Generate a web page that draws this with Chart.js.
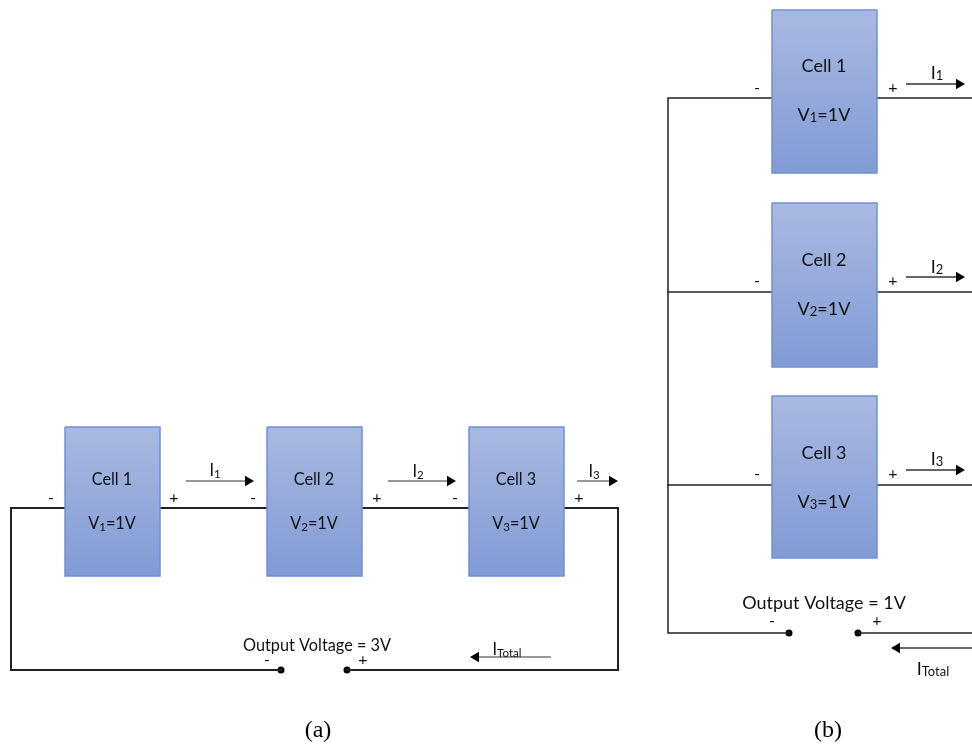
<!DOCTYPE html>
<html>
<head>
<meta charset="utf-8">
<style>
body { margin: 0; background: #fff; }
canvas { display: block; }
</style>
<script src="https://cdn.jsdelivr.net/npm/chart.js@4"></script>
</head>
<body>
<canvas id="chart" width="972" height="749"></canvas>
<script>
// cells: left, right, top, bottom
const cellLeft = [65, 267, 469, 772, 772, 772]
const cellRight = [160, 362, 564, 877, 877, 877]
const cellTop = [427, 427, 427, 10, 203, 396]
const cellBottom = [576, 576, 576, 173, 367, 558]

// wires, as runs of x,y corners (a first, then b)
const wiresA = [
    [[65, 508], [11, 508], [11, 670], [281, 670]],
    [[160, 508], [267, 508]],
    [[362, 508], [469, 508]],
    [[564, 508], [618, 508], [618, 670], [347, 670]]
]
const wiresB = [
    [[772, 98], [668, 98], [668, 633], [789, 633]],
    [[877, 98], [972, 98]],
    [[772, 292], [668, 292]],
    [[877, 292], [972, 292]],
    [[772, 485], [668, 485]],
    [[877, 485], [972, 485]],
    [[858, 633], [972, 633]]
]

// terminals
const dotX = [281, 347, 789, 858]
const dotY = [670, 670, 633, 633]

// current arrows: start x, end x, y
const arrowStart = [186, 388, 577, 551, 906, 906, 906, 972]
const arrowEnd = [254, 456, 618, 470, 965, 965, 965, 891]
const arrowY = [481, 481, 481, 657, 84, 277, 470, 648]

// text: [text, subscript, text after, x, y]
const labelsA = [
    ['Cell 1', '', '', 112, 480], ['V', '1', '=1V', 112, 524],
    ['Cell 2', '', '', 314, 480], ['V', '2', '=1V', 314, 524],
    ['Cell 3', '', '', 516, 480], ['V', '3', '=1V', 516, 524],
    ['Output Voltage = 3V', '', '', 317, 646],
    ['I', '1', '', 215, 471], ['I', '2', '', 418, 472], ['I', '3', '', 594, 472],
    ['I', 'Total', '', 507, 650]
]
const labelsB = [
    ['Cell 1', '', '', 824, 66], ['V', '1', '=1V', 824, 115],
    ['Cell 2', '', '', 824, 260], ['V', '2', '=1V', 824, 309],
    ['Cell 3', '', '', 824, 453], ['V', '3', '=1V', 824, 502],
    ['Output Voltage = 1V', '', '', 824, 603],
    ['I', '1', '', 937, 73], ['I', '2', '', 937, 267], ['I', '3', '', 937, 459],
    ['I', 'Total', '', 933, 669]
]
const signText = ['-', '+', '-', '+', '-', '+', '-', '+', '-', '+', '-', '+', '-', '+', '-', '+']
const signX = [51, 174, 253, 377, 455, 579, 267, 363, 757, 893, 757, 893, 757, 893, 772, 877]
const signY = [498, 498, 498, 498, 498, 498, 660, 660, 88, 88, 281, 281, 474, 474, 621, 621]
const captionText = ['(a)', '(b)']
const captionX = [318, 828]
const captionY = [731, 731]

const datasets = []

cellLeft.forEach(function(left, i){
    datasets.push({
        data: [
            {x: left, y: cellTop[i]},
            {x: cellRight[i], y: cellTop[i]},
            {x: cellRight[i], y: cellBottom[i]},
            {x: left, y: cellBottom[i]},
            {x: left, y: cellTop[i]}
        ],
        showLine: true,
        fill: 'shape',
        pointRadius: 0,
        borderColor: '#6f90d6',
        borderWidth: 1.5,
        backgroundColor: '#95a9da'
    })
})

function addWire(wire, width){
    datasets.push({
        data: wire.map(function(p){ return {x: p[0], y: p[1]} }),
        showLine: true,
        fill: false,
        pointRadius: 0,
        borderColor: '#222222',
        borderWidth: width,
        borderCapStyle: 'square',
        borderJoinStyle: 'miter'
    })
}
wiresA.forEach(function(wire){ addWire(wire, 2) })
wiresB.forEach(function(wire){ addWire(wire, 1.5) })

datasets.push({
    data: dotX.map(function(x, i){ return {x: x, y: dotY[i]} }),
    showLine: false,
    pointRadius: 3.5,
    pointStyle: 'circle',
    pointBackgroundColor: '#000',
    pointBorderWidth: 0
})

arrowStart.forEach(function(start, i){
    const end = arrowEnd[i]
    const dir = end > start ? 1 : -1
    datasets.push({
        data: [{x: start, y: arrowY[i]}, {x: end - dir * 6, y: arrowY[i]}],
        showLine: true,
        fill: false,
        borderColor: '#333333',
        borderWidth: i > 3 ? 1.5 : 1.1,
        pointRadius: [0, 6],
        pointStyle: 'triangle',
        pointRotation: dir * 90,
        pointBackgroundColor: '#000',
        pointBorderWidth: 0
    })
})

function drawLabels(chart, labels, size, subSize){
    const c = chart.ctx
    labels.forEach(function(l){
        const big = size + 'px Lato'
        const small = subSize + 'px Lato'
        c.font = big
        const w1 = c.measureText(l[0]).width
        const w3 = c.measureText(l[2]).width
        c.font = small
        const w2 = c.measureText(l[1]).width
        let x = chart.scales.x.getPixelForValue(l[3]) - (w1 + w2 + w3) / 2
        const y = chart.scales.y.getPixelForValue(l[4])
        c.font = big
        c.fillText(l[0], x, y)
        x += w1
        if(l[1] != ''){
            c.font = small
            c.fillText(l[1], x, y + 3)
            x += w2
        }
        if(l[2] != ''){
            c.font = big
            c.fillText(l[2], x, y)
        }
    })
}

// text has to go through the same scales as the marks
const textPlugin = {
    id: 'diagramText',
    afterDatasetsDraw: function(chart){
        const c = chart.ctx
        const xs = chart.scales.x
        const ys = chart.scales.y
        c.save()
        c.fillStyle = '#111111'
        c.textBaseline = 'middle'
        c.textAlign = 'left'
        drawLabels(chart, labelsA, 16.3, 11.5)
        drawLabels(chart, labelsB, 18, 13)
        c.textAlign = 'center'
        c.font = '16px Lato'
        signText.forEach(function(t, i){
            c.fillText(t, xs.getPixelForValue(signX[i]), ys.getPixelForValue(signY[i]))
        })
        c.font = '24px "Liberation Serif"'
        c.fillStyle = '#000'
        captionText.forEach(function(t, i){
            c.fillText(t, xs.getPixelForValue(captionX[i]), ys.getPixelForValue(captionY[i]))
        })
        c.restore()
    }
}

const myChart = new Chart(document.getElementById('chart').getContext('2d'), {
    type: 'scatter',
    data: {datasets: datasets},
    options: {
        responsive: false,
        animation: false,
        layout: {padding: 0, autoPadding: false},
        scales: {
            x: {type: 'linear', display: false, min: 0, max: 972},
            y: {type: 'linear', display: false, min: 0, max: 749, reverse: true}
        },
        plugins: {
            legend: {display: false},
            tooltip: {enabled: false}
        }
    },
    plugins: [textPlugin]
})

// gradient needs the scale, so it goes in after the first layout
cellLeft.forEach(function(left, i){
    const g = myChart.ctx.createLinearGradient(0, myChart.scales.y.getPixelForValue(cellTop[i]), 0, myChart.scales.y.getPixelForValue(cellBottom[i]))
    g.addColorStop(0, '#a9b9e1')
    g.addColorStop(1, '#819bd5')
    myChart.data.datasets[i].backgroundColor = g
})
myChart.update('none')
</script>
</body>
</html>
